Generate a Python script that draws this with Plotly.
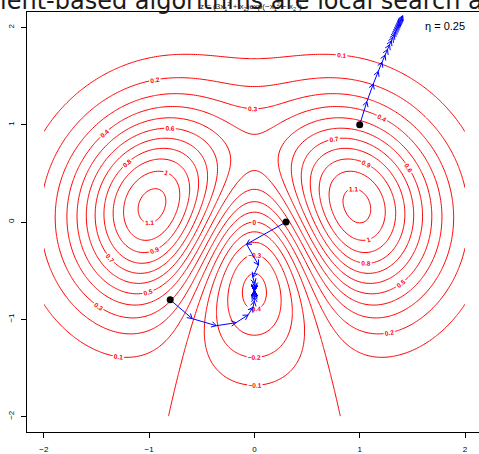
import numpy as np
import plotly.graph_objects as go

# Surface z = (3*x1^2 + x2) * exp(-x1^2 - x2^2) on [-2, 2]^2
x1_grid = np.linspace(-2, 2, 201)
x2_grid = np.linspace(-2, 2, 201)
level_start, level_end, level_step = -0.4, 1.1, 0.1

# Gradient descent settings
eta = 0.25
n_steps = 20
start_x1 = [1.0, 0.3, -0.8]
start_x2 = [1.0, 0.0, -0.8]

x_ticks = [-2, -1, 0, 1, 2]
y_ticks = [-2, -1, 0, 1, 2]
slide_text = "ient-based algorithms are local search a"
title_text = ("z = (3x<sub>1</sub><sup>2</sup> + x<sub>2</sub>)exp(\u2212x<sub>1</sub>"
              "<sup>2</sup> \u2212 x<sub>2</sub><sup>2</sup>)")
eta_text = "\u03b7 = 0.25"


def f(a, b):
    return (3 * a ** 2 + b) * np.exp(-a ** 2 - b ** 2)


def grad(a, b):
    e = np.exp(-a ** 2 - b ** 2)
    ga = 2 * a * e * (3 - 3 * a ** 2 - b)
    gb = e * (1 - 2 * b * (3 * a ** 2 + b))
    return ga, gb


X1, X2 = np.meshgrid(x1_grid, x2_grid)
Z = f(X1, X2)

# figure geometry
W, H = 479, 454
m_l, m_r, m_t, m_b = 27, 0, 12, 22
x_range = [-2.16, 2.133]
y_range = [-2.16, 2.16]
plot_w = W - m_l - m_r
plot_h = H - m_t - m_b
sx = plot_w / (x_range[1] - x_range[0])
sy = plot_h / (y_range[1] - y_range[0])

fig = go.Figure()

fig.add_trace(go.Contour(
    x=x1_grid, y=x2_grid, z=Z,
    contours=dict(start=level_start, end=level_end + 1e-9, size=level_step,
                  coloring="lines", showlabels=True,
                  labelfont=dict(size=6.5, color="#ff0000", family="Liberation Sans",
                                 weight="bold")),
    colorscale=[[0, "#ff0000"], [1, "#ff0000"]],
    showscale=False, line=dict(width=1), hoverinfo="skip",
))

# descent paths with open arrowheads on every step
head_len = 5.5
head_ang = np.pi / 6
px_all, py_all = [], []
for a0, b0 in zip(start_x1, start_x2):
    xs, ys = [a0], [b0]
    a, b = a0, b0
    for _ in range(n_steps):
        ga, gb = grad(a, b)
        a, b = a - eta * ga, b - eta * gb
        xs.append(a)
        ys.append(b)
    for i in range(n_steps):
        xa, ya, xb, yb = xs[i], ys[i], xs[i + 1], ys[i + 1]
        px_all += [xa, xb, None]
        py_all += [ya, yb, None]
        dxp, dyp = (xb - xa) * sx, (yb - ya) * sy
        if dxp == 0 and dyp == 0:
            continue
        ang = np.arctan2(dyp, dxp)
        for s in (1, -1):
            aa = ang + np.pi + s * head_ang
            px_all += [xb + head_len * np.cos(aa) / sx, xb, None]
            py_all += [yb + head_len * np.sin(aa) / sy, yb, None]

fig.add_trace(go.Scatter(x=px_all, y=py_all, mode="lines",
                         line=dict(color="#0000ff", width=1),
                         hoverinfo="skip", showlegend=False))
fig.add_trace(go.Scatter(x=start_x1, y=start_x2, mode="markers",
                         marker=dict(color="black", size=7),
                         hoverinfo="skip", showlegend=False))

axis_common = dict(showgrid=False, zeroline=False, showline=True,
                   linecolor="black", linewidth=1, ticks="outside",
                   ticklen=5, tickwidth=1, tickcolor="black", automargin=False,
                   tickfont=dict(size=8, family="Liberation Sans", color="black"))

fig.update_layout(
    width=W, height=H,
    margin=dict(l=m_l, r=m_r, t=m_t, b=m_b, pad=0, autoexpand=False),
    paper_bgcolor="white", plot_bgcolor="white",
    showlegend=False,
    xaxis=dict(range=x_range, tickvals=x_ticks, mirror=True,
               ticklabelstandoff=4, **axis_common),
    yaxis=dict(range=y_range, tickvals=y_ticks, tickangle=-90,
               ticklabelstandoff=4, **axis_common),
)


def px_to_paper_x(px):
    return (px - m_l) / plot_w


def px_to_paper_y(py):
    return (H - m_b - py) / plot_h


fig.add_annotation(text=eta_text, xref="paper", yref="paper",
                   x=px_to_paper_x(445), y=px_to_paper_y(26),
                   xanchor="center", yanchor="middle", showarrow=False,
                   font=dict(size=11, family="Liberation Sans", color="black"))
fig.add_annotation(text=title_text, xref="paper", yref="paper",
                   x=px_to_paper_x(251), y=px_to_paper_y(6),
                   xanchor="center", yanchor="middle", showarrow=False,
                   font=dict(size=8, family="Liberation Sans", color="#222222"))
fig.add_annotation(text=slide_text, xref="paper", yref="paper",
                   x=px_to_paper_x(-1), y=px_to_paper_y(16),
                   xanchor="left", yanchor="bottom", showarrow=False, borderpad=0,
                   font=dict(size=24, family="DejaVu Sans", color="#1a1a1a"))

fig.write_html("out.html")
